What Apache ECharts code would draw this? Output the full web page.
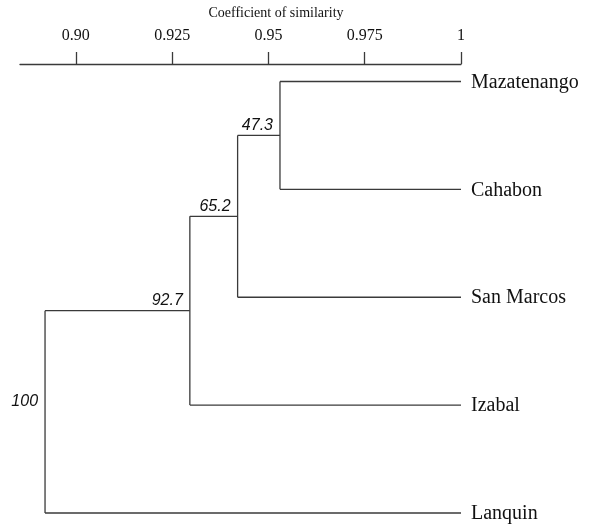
<!DOCTYPE html>
<html>
<head>
<meta charset="utf-8">
<script src="https://cdn.jsdelivr.net/npm/echarts@6/dist/echarts.min.js"></script>
<style>html,body{margin:0;padding:0;background:#fff}#c{width:592px;height:524px}</style>
</head>
<body>
<div id="c"></div>
<script>
// ---- data ----
var leaves = ['Mazatenango', 'Cahabon', 'San Marcos', 'Izabal', 'Lanquin'];
var mergeLeft = [0, 5, 6, 7];          // cluster ids (0-4 leaves, 5+ merges)
var mergeRight = [1, 2, 3, 4];
var mergeHeights = [0.953, 0.942, 0.9296, 0.892]; // coefficient of similarity at each join
var supportValues = ['47.3', '65.2', '92.7', '100'];
var tickValues = [0.90, 0.925, 0.95, 0.975, 1];
var tickLabels = ['0.90', '0.925', '0.95', '0.975', '1'];
var axisTitle = 'Coefficient of similarity';

// ---- build tree geometry in data units ----
var nodeX = [], nodeY = [];
leaves.forEach(function (n, i) { nodeX.push(1); nodeY.push(i); });
var segments = [];
var supportPts = [];
mergeHeights.forEach(function (h, k) {
  var a = mergeLeft[k], b = mergeRight[k];
  var ya = nodeY[a], yb = nodeY[b];
  segments.push([h, ya, h, yb]);
  segments.push([h, ya, nodeX[a], ya]);
  segments.push([h, yb, nodeX[b], yb]);
  nodeX.push(h); nodeY.push((ya + yb) / 2);
  supportPts.push([h, (ya + yb) / 2, supportValues[k]]);
});
var leafPts = leaves.map(function (n, i) { return [1, i, n]; });

var lineColor = '#3a3a3a';
var serif = '"Liberation Serif", "Times New Roman", serif';
var sans = '"Liberation Sans", Arial, sans-serif';

var chart = echarts.init(document.getElementById('c'), null, {renderer: 'canvas'});
chart.setOption({
  animation: false,
  grid: {left: 20, right: 131, top: 64, bottom: 0, containLabel: false},
  xAxis: {
    type: 'value', position: 'top', min: 0.8855, max: 1,
    axisLine: {show: true, onZero: false, lineStyle: {color: lineColor, width: 1.3}},
    axisTick: {show: true, length: 12, customValues: tickValues, lineStyle: {color: lineColor, width: 1.3}},
    axisLabel: {
      show: true, customValues: tickValues, margin: 20,
      fontFamily: serif, fontSize: 16, color: '#111',
      formatter: function (v) {
        for (var i = 0; i < tickValues.length; i++) if (Math.abs(tickValues[i] - v) < 1e-9) return tickLabels[i];
        return '';
      }
    },
    splitLine: {show: false}
  },
  yAxis: {
    type: 'value', inverse: true, min: -0.162, max: 4.102, show: false
  },
  graphic: [{
    type: 'text', x: 276, y: 13,
    style: {text: axisTitle, fontFamily: serif, fontSize: 14, fill: '#111', textAlign: 'center', textVerticalAlign: 'middle'}
  }],
  series: [
    {
      type: 'custom', coordinateSystem: 'cartesian2d', data: segments,
      renderItem: function (params, api) {
        var p1 = api.coord([api.value(0), api.value(1)]);
        var p2 = api.coord([api.value(2), api.value(3)]);
        return {type: 'line', shape: {x1: p1[0], y1: p1[1], x2: p2[0], y2: p2[1]},
          style: {stroke: lineColor, lineWidth: 1.3}};
      }
    },
    {
      type: 'custom', coordinateSystem: 'cartesian2d', data: leafPts,
      renderItem: function (params, api) {
        var p = api.coord([api.value(0), api.value(1)]);
        return {type: 'text', x: p[0] + 10, y: p[1] + 1,
          style: {text: leafPts[params.dataIndex][2], fontFamily: serif, fontSize: 20, fill: '#111',
            textAlign: 'left', textVerticalAlign: 'middle'}};
      }
    },
    {
      type: 'custom', coordinateSystem: 'cartesian2d', data: supportPts,
      renderItem: function (params, api) {
        var p = api.coord([api.value(0), api.value(1)]);
        return {type: 'text', x: p[0] - 7, y: p[1] - 10,
          style: {text: supportPts[params.dataIndex][2], fontFamily: sans, fontStyle: 'italic', fontSize: 16, fill: '#111',
            textAlign: 'right', textVerticalAlign: 'middle'}};
      }
    }
  ]
});
</script>
</body>
</html>
